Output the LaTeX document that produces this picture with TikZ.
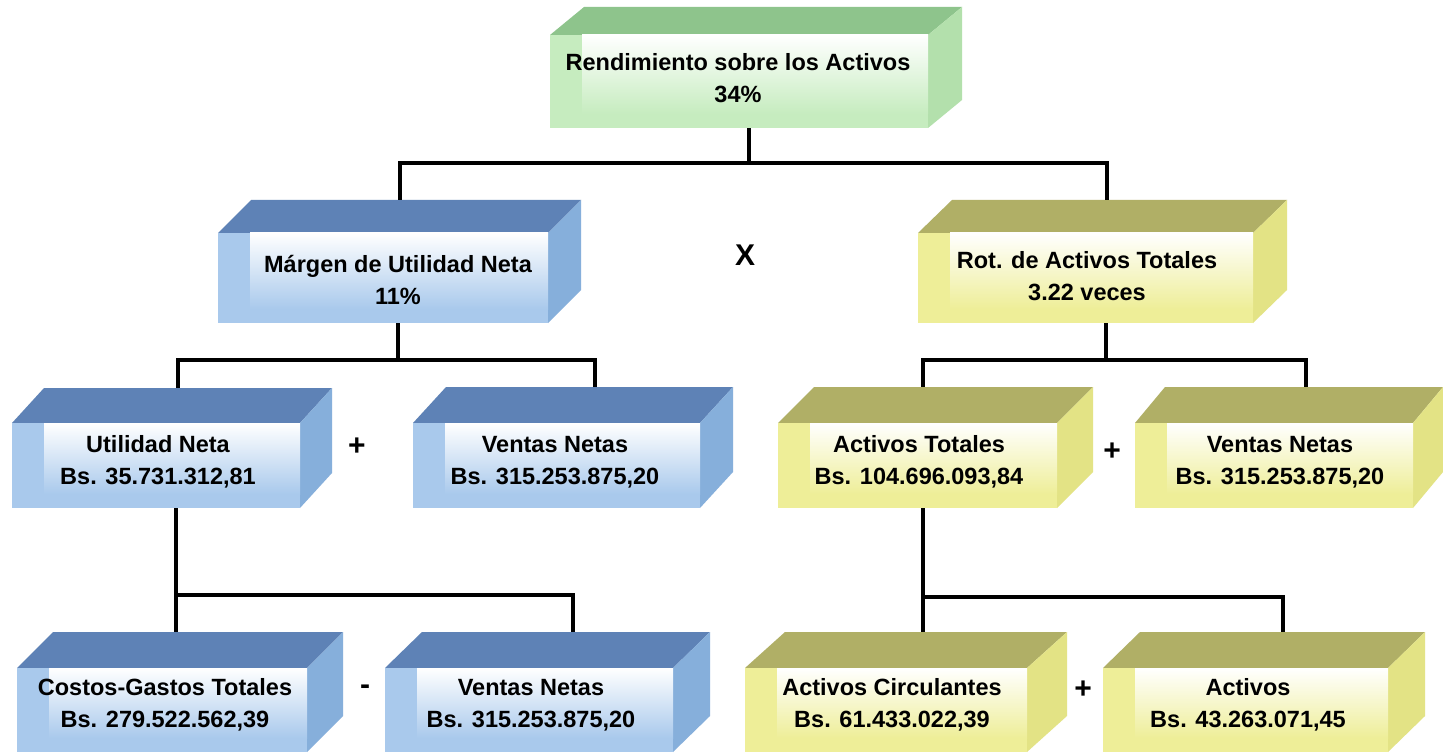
\documentclass[tikz,border=0pt]{standalone}
\usepackage{fontspec}
\setmainfont{Liberation Sans}
\usetikzlibrary{fit,calc}
\definecolor{gtop}{HTML}{8EC48C}
\definecolor{gside}{HTML}{B3E0AC}
\definecolor{gfront}{HTML}{C6ECBF}
\definecolor{btop}{HTML}{5E82B6}
\definecolor{bside}{HTML}{86AFDB}
\definecolor{bfront}{HTML}{A9C9EC}
\definecolor{ytop}{HTML}{B0AF66}
\definecolor{yside}{HTML}{E3E385}
\definecolor{yfront}{HTML}{EEEE98}
\newcommand{\mycube}[8]{%
  \fill[#8top] (#2,#3) -- ({#2+#6},{#3-#7}) -- ({#4+#6},{#3-#7}) -- (#4,#3) -- cycle;
  \fill[#8side] (#4,#3) -- ({#4+#6},{#3-#7}) -- ({#4+#6},{#5-#7}) -- (#4,#5) -- cycle;
  \fill[#8front] (#2,#3) rectangle (#4,#5);
  \shade[top color=white, bottom color=#8front] ({#2+32},#3) rectangle (#4,{#5-14});
  \node[fit={(#2,{#3-#7}) ({#4+#6},#5)}, inner sep=0pt] (#1) {};
}
\tikzset{
  lbl/.style={font=\bfseries\fontsize{23.5}{32}\selectfont, align=center, inner sep=0pt, text=black},
  op/.style={font=\bfseries\fontsize{30}{30}\selectfont, inner sep=0pt},
  conn/.style={draw=black, line width=4pt}
}
\begin{document}
\begin{tikzpicture}[x=1pt,y=-1pt]
\useasboundingbox[fill=white] (0,0) rectangle (1443,754);
% boxes
\mycube{top}{550}{35}{928}{128}{34}{28}{g}
\mycube{marg}{218}{233}{548}{323}{33}{33}{b}
\mycube{rot}{918}{233}{1253}{323}{34}{33}{y}
\mycube{ut}{12}{423}{300}{508}{32}{35}{b}
\mycube{vb}{413}{423}{700}{508}{33}{36}{b}
\mycube{at}{778}{423}{1057}{508}{36}{36}{y}
\mycube{vy}{1135}{423}{1413}{508}{30}{36}{y}
\mycube{cg}{17}{668}{307}{752}{36}{36}{b}
\mycube{vbb}{385}{668}{673}{752}{37}{36}{b}
\mycube{ac}{745}{668}{1027}{752}{40}{36}{y}
\mycube{af}{1103}{668}{1388}{752}{37}{36}{y}
% texts
\node[lbl] (top-t) at (738,78) {Rendimiento sobre los Activos\\34\%};
\node[lbl] (marg-t) at (398,280) {Márgen de Utilidad Neta\\11\%};
\node[lbl] (rot-t) at (1087,276) {Rot. de Activos Totales\\3.22 veces};
\node[lbl] (ut-t) at (158,462) {Utilidad Neta\\Bs. 35.731.312,81};
\node[lbl] (vb-t) at (555,462) {Ventas Netas\\Bs. 315.253.875,20};
\node[lbl] (at-t) at (919,462) {Activos Totales\\Bs. 104.696.093,84};
\node[lbl] (vy-t) at (1280,462) {Ventas Netas\\Bs. 315.253.875,20};
\node[lbl] (cg-t) at (165,705) {Costos-Gastos Totales\\Bs. 279.522.562,39};
\node[lbl] (vbb-t) at (531,705) {Ventas Netas\\Bs. 315.253.875,20};
\node[lbl] (ac-t) at (892,705) {Activos Circulantes\\Bs. 61.433.022,39};
\node[lbl] (af-t) at (1248,705) {Activos\\Bs. 43.263.071,45};
% operators
\node[op] (opx) at (745,255) {X};
\node[op] (op1) at (357,447) {+};
\node[op] (op2) at (1112,452) {+};
\node[op] (op3) at (365,690) {-};
\node[op] (op4) at (1083,690) {+};
% connectors
\coordinate (j1) at ([xshift=-7pt,yshift=-35pt]top.south);
\draw[conn] ([xshift=-7pt]top.south) -- (j1);
\draw[conn] (marg.north) |- (j1) -| ([xshift=4pt]rot.north);
\coordinate (j2) at ([xshift=-2pt,yshift=-37pt]marg.south);
\draw[conn] ([xshift=-2pt]marg.south) -- (j2);
\draw[conn] ([xshift=6pt]ut.north) |- (j2) -| ([xshift=22pt]vb.north);
\coordinate (j3) at ([xshift=3pt,yshift=-37pt]rot.south);
\draw[conn] ([xshift=3pt]rot.south) -- (j3);
\draw[conn] ([xshift=-13pt]at.north) |- (j3) -| ([xshift=17pt]vy.north);
\coordinate (j4) at ([xshift=4pt,yshift=-87pt]ut.south);
\draw[conn] ([xshift=4pt]ut.south) -- (j4) -- (cg.north -| j4);
\draw[conn] (j4) -| ([xshift=25pt]vbb.north);
\coordinate (j5) at ([xshift=-13pt,yshift=-89pt]at.south);
\draw[conn] ([xshift=-13pt]at.south) -- (j5) -- (ac.north -| j5);
\draw[conn] (j5) -| ([xshift=19pt]af.north);
\end{tikzpicture}
\end{document}
